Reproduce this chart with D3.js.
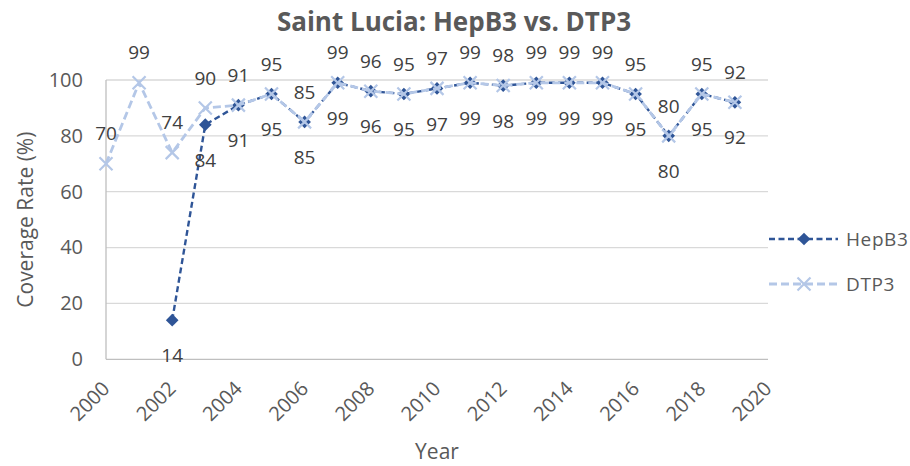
<!DOCTYPE html>
<html>
<head>
<meta charset="utf-8">
<script src="https://cdn.jsdelivr.net/npm/d3@7"></script>
<style>
  html, body { margin: 0; padding: 0; background: #fff; }
  svg { display: block; font-family: "Open Sans", "Noto Sans", sans-serif; }
</style>
</head>
<body>
<svg id="chart" width="910" height="466"></svg>
<script>
// Immunization coverage, Saint Lucia
const hepYears = [2002, 2003, 2004, 2005, 2006, 2007, 2008, 2009, 2010, 2011, 2012, 2013, 2014, 2015, 2016, 2017, 2018, 2019];
const hepB3 = [14, 84, 91, 95, 85, 99, 96, 95, 97, 99, 98, 99, 99, 99, 95, 80, 95, 92];
const dtpYears = [2000, 2001, 2002, 2003, 2004, 2005, 2006, 2007, 2008, 2009, 2010, 2011, 2012, 2013, 2014, 2015, 2016, 2017, 2018, 2019];
const dtp3 = [70, 99, 74, 90, 91, 95, 85, 99, 96, 95, 97, 99, 98, 99, 99, 99, 95, 80, 95, 92];
const xTicks = [2000, 2002, 2004, 2006, 2008, 2010, 2012, 2014, 2016, 2018, 2020];
const yTicks = [0, 20, 40, 60, 80, 100];

const svg = d3.select("#chart");
const C_HEP = "#2f5597", C_DTP = "#b4c7e7";

const x = d3.scaleLinear().domain([2000, 2020]).range([106, 768]);
const y = d3.scaleLinear().domain([0, 100]).range([359.3, 80]);

// Title
svg.append("text").attr("x", 454).attr("y", 31).attr("text-anchor", "middle")
  .attr("font-size", 26).attr("font-weight", "bold").attr("fill", "#595959")
  .text("Saint Lucia: HepB3 vs. DTP3");

// Horizontal gridlines
svg.append("g").selectAll("line").data(yTicks.filter(d => d > 0)).join("line")
  .attr("x1", x(2000)).attr("x2", x(2020))
  .attr("y1", d => y(d)).attr("y2", d => y(d))
  .attr("stroke", "#d9d9d9").attr("stroke-width", 1.3);

// Axis lines
svg.append("line").attr("x1", x(2000)).attr("x2", x(2020)).attr("y1", y(0)).attr("y2", y(0))
  .attr("stroke", "#bfbfbf").attr("stroke-width", 1.3);
svg.append("line").attr("x1", x(2000)).attr("x2", x(2000)).attr("y1", y(0)).attr("y2", y(100))
  .attr("stroke", "#bfbfbf").attr("stroke-width", 1.3);

// Y tick labels
const yAxis = d3.axisLeft(y).tickValues(yTicks).tickSize(0).tickPadding(23);
const gy = svg.append("g").attr("transform", `translate(${x(2000)},0)`).call(yAxis);
gy.select(".domain").remove();
gy.selectAll("text").attr("font-size", 20).attr("fill", "#595959")
  .attr("font-family", "'Open Sans', sans-serif");

// X tick labels (rotated)
svg.append("g").selectAll("text").data(xTicks).join("text")
  .attr("transform", d => `translate(${x(d)},385) rotate(-45)`)
  .attr("text-anchor", "end").attr("dy", "0.35em")
  .attr("font-size", 20).attr("fill", "#595959")
  .text(d => d);

// Axis titles
svg.append("text").attr("transform", `translate(33,${(y(0) + y(100)) / 2}) rotate(-90)`)
  .attr("text-anchor", "middle").attr("font-size", 21).attr("fill", "#595959")
  .text("Coverage Rate (%)");
svg.append("text").attr("x", 437).attr("y", 459).attr("text-anchor", "middle")
  .attr("font-size", 21).attr("fill", "#595959").text("Year");

const hep = hepYears.map((yr, i) => ({ yr, v: hepB3[i] }));
const dtp = dtpYears.map((yr, i) => ({ yr, v: dtp3[i] }));
const line = d3.line().x(d => x(d.yr)).y(d => y(d.v));

function xMark(g, cx, cy, r) {
  g.append("path").attr("d", `M${cx - r},${cy - r}L${cx + r},${cy + r}M${cx - r},${cy + r}L${cx + r},${cy - r}`)
    .attr("stroke", C_DTP).attr("stroke-width", 2.2).attr("fill", "none");
}

// HepB3 series
svg.append("path").datum(hep).attr("d", line).attr("fill", "none")
  .attr("stroke", C_HEP).attr("stroke-width", 2.4).attr("stroke-dasharray", "6,3.5");
svg.append("g").selectAll("path").data(hep).join("path")
  .attr("d", d3.symbol().type(d3.symbolSquare).size(80))
  .attr("transform", d => `translate(${x(d.yr)},${y(d.v)}) rotate(45)`)
  .attr("fill", C_HEP);

// DTP3 series
svg.append("path").datum(dtp).attr("d", line).attr("fill", "none")
  .attr("stroke", C_DTP).attr("stroke-width", 2.8).attr("stroke-dasharray", "8,4");
const gm = svg.append("g");
dtp.forEach(d => xMark(gm, x(d.yr), y(d.v), 6.5));

// Data labels
svg.append("g").selectAll("text").data(dtp).join("text")
  .attr("x", d => x(d.yr)).attr("y", d => y(d.v) - 30).attr("dy", "0.35em")
  .attr("text-anchor", "middle").attr("font-size", 19).attr("fill", "#404040")
  .text(d => d.v);
svg.append("g").selectAll("text").data(hep).join("text")
  .attr("x", d => x(d.yr)).attr("y", d => y(d.v) + 35.5).attr("dy", "0.35em")
  .attr("text-anchor", "middle").attr("font-size", 19).attr("fill", "#404040")
  .text(d => d.v);

// Legend
const legend = [
  { name: "HepB3", color: C_HEP, w: 2.4, dash: "6,3.5", y: 239 },
  { name: "DTP3", color: C_DTP, w: 2.8, dash: "8,4", y: 284 }
];
legend.forEach((l, i) => {
  svg.append("line").attr("x1", 769).attr("x2", 838).attr("y1", l.y).attr("y2", l.y)
    .attr("stroke", l.color).attr("stroke-width", l.w).attr("stroke-dasharray", l.dash);
  if (i === 0) {
    svg.append("path").attr("d", d3.symbol().type(d3.symbolSquare).size(80))
      .attr("transform", `translate(804,${l.y}) rotate(45)`).attr("fill", l.color);
  } else {
    xMark(svg, 804, l.y, 6.5);
  }
  svg.append("text").attr("x", 846).attr("y", l.y).attr("dy", "0.35em")
    .attr("font-size", 19).attr("letter-spacing", 0.6).attr("fill", "#595959").text(l.name);
});
</script>
</body>
</html>
